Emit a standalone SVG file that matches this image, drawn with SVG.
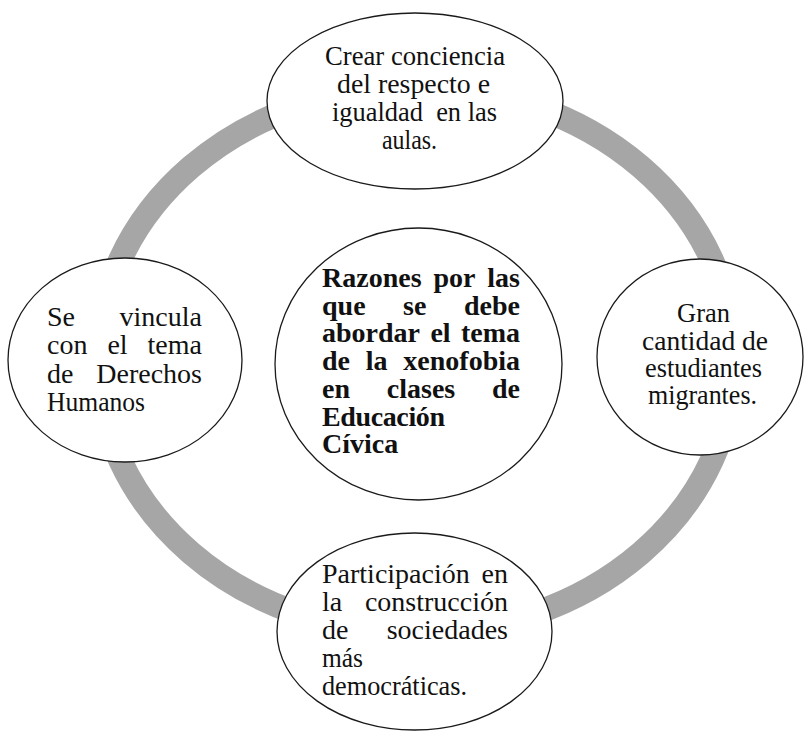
<svg xmlns="http://www.w3.org/2000/svg" width="804" height="731" viewBox="0 0 804 731">
<style>
.node{fill:#fff;stroke:#1a1a1a;stroke-width:1.3}
.ring{fill:none;stroke:#a6a6a6;stroke-width:24}
</style>
<rect width="804" height="731" fill="#fff"/>
<g id="connectors">
<ellipse class="ring" cx="416" cy="360" rx="318" ry="273"/>
</g>
<g id="node-top">
<ellipse class="node" cx="415" cy="101" rx="148" ry="88"/>
<g font-family="Liberation Serif" font-size="28" fill="#111">
<text x="325" y="65" textLength="180" lengthAdjust="spacingAndGlyphs">Crear conciencia</text>
<text x="337" y="93" textLength="153" lengthAdjust="spacingAndGlyphs">del respecto e</text>
<text x="332" y="121" textLength="165" lengthAdjust="spacingAndGlyphs" xml:space="preserve">igualdad  en las</text>
<text x="382" y="148.5" textLength="55" lengthAdjust="spacingAndGlyphs">aulas.</text>
</g>
</g>
<g id="node-left">
<ellipse class="node" cx="125" cy="360" rx="117" ry="102"/>
<g font-family="Liberation Serif" font-size="28" fill="#111">
<text y="326"><tspan x="47">Se</tspan><tspan x="202" text-anchor="end">vincula</tspan></text>
<text y="354"><tspan x="47">con</tspan><tspan x="107.4">el</tspan><tspan x="202" text-anchor="end">tema</tspan></text>
<text y="383"><tspan x="47">de</tspan><tspan x="202" text-anchor="end">Derechos</tspan></text>
<text x="47" y="411" textLength="98" lengthAdjust="spacingAndGlyphs">Humanos</text>
</g>
</g>
<g id="node-right">
<ellipse class="node" cx="700" cy="357" rx="103" ry="98"/>
<g font-family="Liberation Serif" font-size="28" fill="#111">
<text x="677" y="322" textLength="53" lengthAdjust="spacingAndGlyphs">Gran</text>
<text x="642" y="350" textLength="126" lengthAdjust="spacingAndGlyphs">cantidad de</text>
<text x="645" y="377" textLength="117" lengthAdjust="spacingAndGlyphs">estudiantes</text>
<text x="648" y="404" textLength="109" lengthAdjust="spacingAndGlyphs">migrantes.</text>
</g>
</g>
<g id="node-center">
<ellipse class="node" cx="418.5" cy="364" rx="143.5" ry="136"/>
<g font-family="Liberation Serif" font-size="28" font-weight="bold" fill="#111">
<text y="287"><tspan x="322">Razones</tspan><tspan x="433.4">por</tspan><tspan x="520" text-anchor="end">las</tspan></text>
<text y="314.7"><tspan x="322">que</tspan><tspan x="403.1">se</tspan><tspan x="520" text-anchor="end">debe</tspan></text>
<text y="342.4"><tspan x="322">abordar</tspan><tspan x="430.4">el</tspan><tspan x="520" text-anchor="end">tema</tspan></text>
<text y="370.1"><tspan x="322">de</tspan><tspan x="365.8">la</tspan><tspan x="520" text-anchor="end">xenofobia</tspan></text>
<text y="397.8"><tspan x="322">en</tspan><tspan x="386.8">clases</tspan><tspan x="520" text-anchor="end">de</tspan></text>
<text x="322" y="425.5" textLength="123" lengthAdjust="spacing">Educación</text>
<text x="322" y="453.2">Cívica</text>
</g>
</g>
<g id="node-bottom">
<ellipse class="node" cx="414.5" cy="631.5" rx="137.5" ry="98.5"/>
<g font-family="Liberation Serif" font-size="28" fill="#111">
<text y="583"><tspan x="322">Participación</tspan><tspan x="508" text-anchor="end">en</tspan></text>
<text y="611"><tspan x="322">la</tspan><tspan x="508" text-anchor="end">construcción</tspan></text>
<text y="639"><tspan x="322">de</tspan><tspan x="508" text-anchor="end">sociedades</tspan></text>
<text x="322" y="667" textLength="41" lengthAdjust="spacingAndGlyphs">más</text>
<text x="322" y="695" textLength="145" lengthAdjust="spacingAndGlyphs">democráticas.</text>
</g>
</g>
</svg>
